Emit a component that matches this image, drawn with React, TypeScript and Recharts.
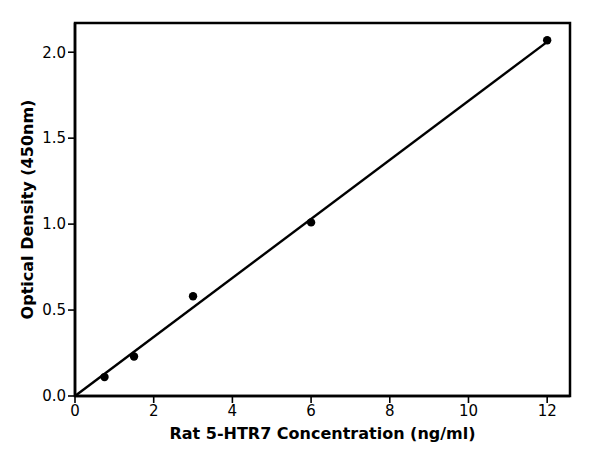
import React from 'react';
import { ComposedChart, Line, Scatter, XAxis, YAxis, ReferenceArea } from 'recharts';

// standard points
const concentrations = [0.75, 1.5, 3, 6, 12];
const densities = [0.11, 0.23, 0.58, 1.01, 2.07];

// fitted line end points
const fitX = [0, 12];
const fitY = [0, 2.06];

const xTicks = [0, 2, 4, 6, 8, 10, 12];
const yTicks = [0, 0.5, 1, 1.5, 2];

const points = concentrations.map((x, i) => ({ x, od: densities[i] }));
const fitLine = fitX.map((x, i) => ({ x, fit: fitY[i] }));

const font = 'DejaVu Sans, sans-serif';

export default function App() {
    return (
        <div style={{ position: 'absolute', left: 0, top: 0, background: '#fff' }}>
            <ComposedChart
                width={600}
                height={450}
                margin={{ top: 23, right: 30, bottom: 0, left: 0 }}
            >
                <XAxis
                    dataKey="x"
                    type="number"
                    domain={[0, 12.58]}
                    ticks={xTicks}
                    allowDuplicatedCategory={false}
                    height={54}
                    tickSize={7}
                    tickLine={{ stroke: '#000', strokeWidth: 1.6 }}
                    axisLine={{ stroke: '#000', strokeWidth: 2.5 }}
                    tick={{ fill: '#000', fontSize: 15, fontFamily: font }}
                    label={{
                        value: 'Rat 5-HTR7 Concentration (ng/ml)',
                        position: 'insideBottom',
                        offset: 11,
                        fill: '#000',
                        fontSize: 16,
                        fontWeight: 'bold',
                        fontFamily: font,
                    }}
                />
                <YAxis
                    type="number"
                    domain={[0, 2.17]}
                    ticks={yTicks}
                    width={75}
                    tickSize={7}
                    tickFormatter={(v) => v.toFixed(1)}
                    tickLine={{ stroke: '#000', strokeWidth: 1.6 }}
                    axisLine={{ stroke: '#000', strokeWidth: 2.5 }}
                    tick={{ fill: '#000', fontSize: 15, fontFamily: font }}
                    label={{
                        value: 'Optical Density (450nm)',
                        angle: -90,
                        position: 'insideLeft',
                        offset: 27,
                        style: { textAnchor: 'middle' },
                        fill: '#000',
                        fontSize: 16,
                        fontWeight: 'bold',
                        fontFamily: font,
                    }}
                />
                <ReferenceArea
                    x1={0}
                    x2={12.58}
                    y1={0}
                    y2={2.17}
                    fill="none"
                    stroke="#000"
                    strokeWidth={2.5}
                    ifOverflow="visible"
                />
                <Line
                    data={fitLine}
                    dataKey="fit"
                    type="linear"
                    stroke="#000"
                    strokeWidth={2.4}
                    dot={false}
                    activeDot={false}
                    isAnimationActive={false}
                />
                <Scatter
                    data={points}
                    dataKey="od"
                    fill="#000"
                    shape={(p: any) => <circle cx={p.cx} cy={p.cy} r={4.2} fill="#000" />}
                    isAnimationActive={false}
                />
            </ComposedChart>
        </div>
    );
}
